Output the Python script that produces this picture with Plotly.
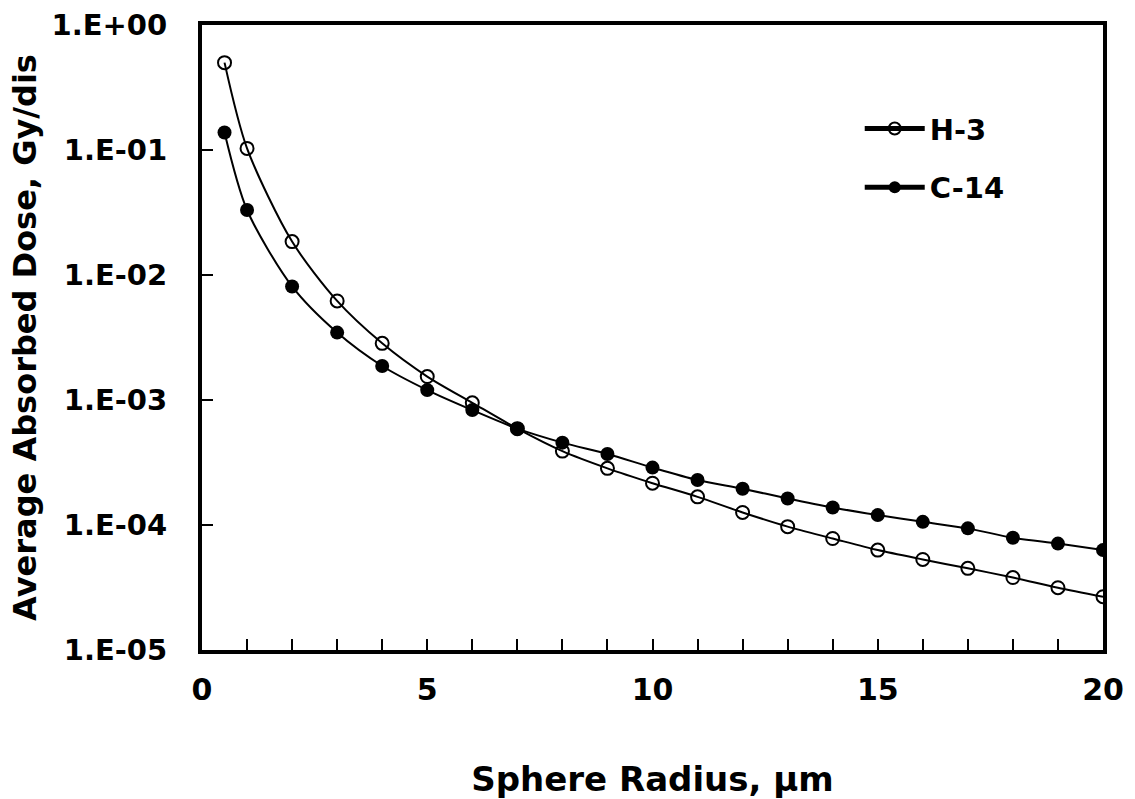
import plotly.graph_objects as go

radius = [0.5, 1, 2, 3, 4, 5, 6, 7, 8, 9, 10, 11, 12, 13, 14, 15, 16, 17, 18, 19, 20]
h3 = [0.50, 0.103, 0.0185, 0.0062, 0.00284, 0.00154, 0.00095, 0.00059, 0.00039, 0.000284,
      0.000216, 0.000168, 0.000126, 9.7e-5, 7.8e-5, 6.3e-5, 5.3e-5, 4.5e-5, 3.8e-5, 3.15e-5, 2.67e-5]
c14 = [0.138, 0.0331, 0.0081, 0.00346, 0.00187, 0.0012, 0.00083, 0.00059, 0.000456, 0.00037,
       0.000288, 0.000229, 0.000195, 0.000163, 0.000138, 0.00012, 0.000106, 9.4e-5, 7.9e-5, 7.1e-5, 6.3e-5]

y_tickvals = [1, 1e-1, 1e-2, 1e-3, 1e-4, 1e-5]
y_ticktext = ["1.E+00", "1.E-01", "1.E-02", "1.E-03", "1.E-04", "1.E-05"]
x_tickvals = [0, 5, 10, 15, 20]

FONT = "DejaVu Sans, sans-serif"

fig = go.Figure()
fig.add_trace(go.Scatter(
    x=radius, y=h3, name="H-3", mode="lines+markers", legendgroup="h3",
    line=dict(color="black", width=2, shape="spline", smoothing=0.8),
    marker=dict(symbol="circle-open", size=13, color="black", line=dict(width=2, color="black")),
))
fig.add_trace(go.Scatter(
    x=radius, y=c14, name="C-14", mode="lines+markers", legendgroup="c14",
    line=dict(color="black", width=2, shape="spline", smoothing=0.8),
    marker=dict(symbol="circle", size=14, color="black"),
))

fig.update_layout(
    width=1135, height=799,
    margin=dict(l=202, r=32, t=25, b=149, autoexpand=False),
    paper_bgcolor="white", plot_bgcolor="white",
    font=dict(family=FONT, color="black", size=29, weight="bold"),
    legend=dict(x=0.730, y=0.787, xanchor="left", yanchor="middle",
                bgcolor="rgba(0,0,0,0)", font=dict(size=29, family=FONT, weight="bold"),
                itemsizing="constant", tracegroupgap=18, itemwidth=60),
    showlegend=True,
)
fig.update_xaxes(
    range=[0, 20], tickvals=x_tickvals, ticktext=[str(v) for v in x_tickvals],
    ticks="inside", ticklen=11, tickwidth=2, tickcolor="black",
    minor=dict(dtick=1, ticks="inside", ticklen=11, tickwidth=2, tickcolor="black"),
    showline=True, linewidth=4, linecolor="black", mirror=True,
    showgrid=False, zeroline=False, automargin=False,
    tickfont=dict(size=30, family=FONT, weight="bold"),
    ticklabelstandoff=10,
    title=dict(text="Sphere Radius, μm", font=dict(size=34, family=FONT, weight="bold"), standoff=63),
)
fig.update_yaxes(
    type="log", range=[-5, 0], tickvals=y_tickvals, ticktext=y_ticktext,
    ticks="inside", ticklen=11, tickwidth=2, tickcolor="black",
    showline=True, linewidth=4, linecolor="black", mirror=True,
    showgrid=False, zeroline=False, automargin=False,
    tickfont=dict(size=29, family=FONT, weight="bold"),
    ticklabelstandoff=25,
    title=dict(text="Average Absorbed Dose, Gy/dis", font=dict(size=32, family=FONT, weight="bold"), standoff=6),
)

fig.write_html("out.html")
